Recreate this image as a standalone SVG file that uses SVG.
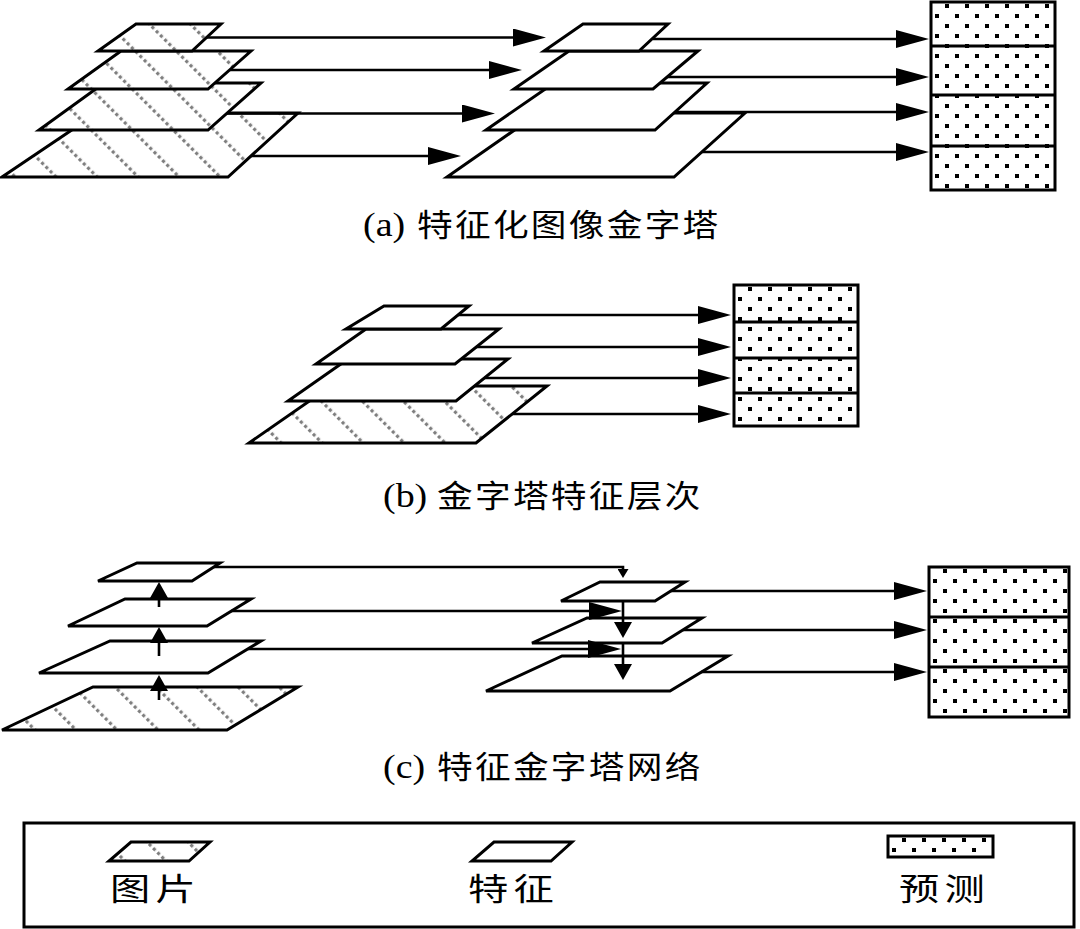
<svg xmlns="http://www.w3.org/2000/svg" width="1080" height="929" viewBox="0 0 1080 929">
<style>
.shape{stroke:#000;stroke-width:3;stroke-linejoin:miter}
.feat{fill:#fff}
.img{fill:url(#hatch)}
.conn path{fill:none;stroke:#000;stroke-width:2.6}
.big{marker-end:url(#ah)}
.med{marker-end:url(#ahm)}
.sml{marker-end:url(#ahs)}
.pred rect{fill:url(#dots);stroke:#000;stroke-width:3}
.pred line{stroke:#000;stroke-width:3}
.lat{font-family:"Liberation Serif","Times New Roman",serif;font-size:33px}
.cjk{font-family:"Noto Sans CJK SC","Noto Sans CJK JP",sans-serif;font-size:31px;letter-spacing:2px}
.leg{font-family:"Noto Sans CJK SC","Noto Sans CJK JP",sans-serif;font-size:31px;letter-spacing:4px}
</style>
<defs>
<pattern id="hatch" patternUnits="userSpaceOnUse" width="29" height="6" patternTransform="rotate(-45)">
<rect width="29" height="6" fill="#fff"/>
<rect x="0" y="0" width="3.2" height="3.2" fill="#7f7f7f"/>
</pattern>
<pattern id="dots" patternUnits="userSpaceOnUse" width="20" height="20">
<rect width="20" height="20" fill="#fff"/>
<rect x="4" y="12" width="4" height="4" fill="#000"/>
<rect x="14" y="2" width="4" height="4" fill="#000"/>
</pattern>
<marker id="ah" markerUnits="userSpaceOnUse" markerWidth="33" markerHeight="18" refX="25" refY="9" orient="auto">
<path d="M0,0 L33,9 L0,18 Z" fill="#000"/>
</marker>
<marker id="ahm" markerUnits="userSpaceOnUse" markerWidth="16" markerHeight="18" refX="12" refY="9" orient="auto">
<path d="M0,0 L16,9 L0,18 Z" fill="#000"/>
</marker>
<marker id="ahs" markerUnits="userSpaceOnUse" markerWidth="9" markerHeight="11" refX="6" refY="5.5" orient="auto">
<path d="M0,0 L9,5.5 L0,11 Z" fill="#000"/>
</marker>
</defs>
<rect width="1080" height="929" fill="#fff"/>

<!-- (a) image pyramid -->
<g id="a-img-4"><polygon class="shape img" points="97,113 298,113 228,177 2,177"/></g>
<g id="a-img-3"><polygon class="shape img" points="104,83 261,83 208,130 39,130"/></g>
<g id="a-img-2"><polygon class="shape img" points="121,51 251,51 208,89 68,89"/></g>
<g id="a-img-1"><polygon class="shape img" points="136,24 221,24 192,51 98,51"/></g>
<!-- (a) feature pyramid -->
<g id="a-feat-4"><polygon class="shape feat" points="539,113 745,113 674,177 447,177"/></g>
<g id="a-feat-3"><polygon class="shape feat" points="554,83 707,83 655,130 486,130"/></g>
<g id="a-feat-2"><polygon class="shape feat" points="569,51 698,51 653,89 514,89"/></g>
<g id="a-feat-1"><polygon class="shape feat" points="583,24 668,24 639,51 544,51"/></g>
<g id="a-pred" class="pred" transform="translate(931,2)">
<rect x="0" y="0" width="124" height="188"/>
<line x1="0" y1="44" x2="124" y2="44"/><line x1="0" y1="93" x2="124" y2="93"/><line x1="0" y1="144" x2="124" y2="144"/>
</g>

<!-- (b) -->
<g id="b-img"><polygon class="shape img" points="331,386 547,386 476,443 249,443"/></g>
<g id="b-feat-3"><polygon class="shape feat" points="348,359 508,359 456,401 288,401"/></g>
<g id="b-feat-2"><polygon class="shape feat" points="366,329 499,329 455,364 316,364"/></g>
<g id="b-feat-1"><polygon class="shape feat" points="384,306 469,306 441,329 346,329"/></g>
<g id="b-pred" class="pred" transform="translate(734,285)">
<rect x="0" y="0" width="124" height="141"/>
<line x1="0" y1="37" x2="124" y2="37"/><line x1="0" y1="73" x2="124" y2="73"/><line x1="0" y1="108" x2="124" y2="108"/>
</g>

<!-- (c) bottom-up pyramid -->
<g id="c-img"><polygon class="shape img" points="93,687 298,687 227,730 2,730"/></g>
<g id="c-up-3"><polygon class="shape feat" points="110,641 261,641 208,673 39,673"/></g>
<g id="c-up-2"><polygon class="shape feat" points="125,599 251,599 207,626 68,626"/></g>
<g id="c-up-1"><polygon class="shape feat" points="137,563 220,563 192,581 98,581"/></g>
<!-- (c) top-down pyramid -->
<g id="c-down-3"><polygon class="shape feat" points="562,656 728,656 670,691 486,691"/></g>
<g id="c-down-2"><polygon class="shape feat" points="587,618 702,618 662,643 532,643"/></g>
<g id="c-down-1"><polygon class="shape feat" points="600,582 685,582 655,601 561,601"/></g>
<g id="c-pred" class="pred" transform="translate(929,567)">
<rect x="0" y="0" width="140" height="150"/>
<line x1="0" y1="50" x2="140" y2="50"/><line x1="0" y1="100" x2="140" y2="100"/>
</g>

<!-- connectors -->
<g id="connectors" class="conn">
<path class="big" d="M207,37.5 H538"/>
<path class="big" d="M230,70 H514"/>
<path class="big" d="M227,113.5 H487"/>
<path class="big" d="M251,156 H453"/>
<path class="big" d="M653,39 H921"/>
<path class="big" d="M667,77 H921"/>
<path class="big" d="M676,112 H921"/>
<path class="big" d="M702,152 H921"/>

<path class="big" d="M458,315 H723"/>
<path class="big" d="M476,347 H723"/>
<path class="big" d="M484,378 H723"/>
<path class="big" d="M512,414 H723"/>

<path class="med" d="M159,700 V679"/>
<path class="med" d="M159,656 V631"/>
<path class="med" d="M159,607 V586"/>
<path class="sml" d="M214,567 H623 V575"/>
<path class="big" d="M231,611 H614"/>
<path class="big" d="M248,649 H613"/>
<path class="med" d="M623,601 V634"/>
<path class="med" d="M623,643 V676"/>
<path class="big" d="M671,591 H919"/>
<path class="big" d="M683,630 H919"/>
<path class="big" d="M701,672 H919"/>
</g>

<!-- captions -->
<text id="cap-a" transform="translate(363,236) scale(1.15,1)"><tspan class="lat" x="0">(a) </tspan><tspan class="cjk" x="47">特征化图像金字塔</tspan></text>
<text id="cap-b" transform="translate(383,507) scale(1.15,1)"><tspan class="lat" x="0">(b) </tspan><tspan class="cjk" x="47">金字塔特征层次</tspan></text>
<text id="cap-c" transform="translate(383,778) scale(1.15,1)"><tspan class="lat" x="0">(c) </tspan><tspan class="cjk" x="47">特征金字塔网络</tspan></text>

<!-- legend -->
<g id="legend">
<rect x="24" y="823" width="1050" height="104" fill="none" stroke="#000" stroke-width="3"/>
<g id="legend-img"><polygon class="shape img" points="131,842 210,842 189,861 109,861"/></g>
<g id="legend-feat"><polygon class="shape feat" points="494,842 572,842 551,861 472,861"/></g>
<g id="legend-pred" class="pred" transform="translate(888,836)"><rect x="0" y="0" width="105" height="21"/></g>
<text class="leg" transform="translate(110,900) scale(1.3,1)">图片</text>
<text class="leg" transform="translate(468,900) scale(1.3,1)">特征</text>
<text class="leg" transform="translate(899,900) scale(1.3,1)">预测</text>
</g>
</svg>
